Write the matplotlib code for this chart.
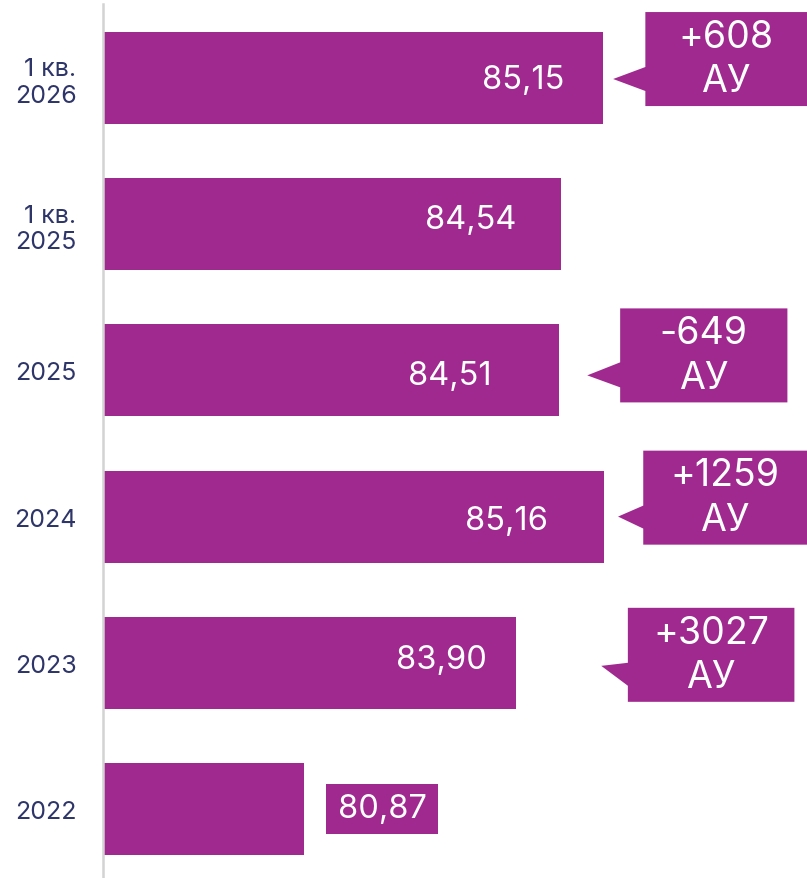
import matplotlib.pyplot as plt
from matplotlib.patches import Polygon, Rectangle

plt.rcParams["font.family"] = ["Inter", "DejaVu Sans"]

# data (top to bottom)
periods = ["1 кв.\n2026", "1 кв.\n2025", "2025", "2024", "2023", "2022"]
values = [85.15, 84.54, 84.51, 85.16, 83.90, 80.87]
changes = ["+608", None, "-649", "+1259", "+3027", None]
change_unit = "АУ"

# layout: value label centre offset from bar end (x) and from bar centre (y)
label_dx = [-1.15, -1.28, -1.56, -1.39, -1.07, None]
label_dy = [0.007, -0.034, 0.034, 0.027, -0.02, 0.0]
# 2022 label box (outside the bar): left, right, half height
outside_box = (81.19, 82.79, 0.17)

# callouts: box left, box right, box top/bottom (rel. to row), tip x, tip y, base top/bottom (rel.)
callouts = {
    0: (85.75, 88.10, -0.451, 0.192, 85.29, 0.007, -0.075, 0.089),
    2: (85.39, 87.78, -0.424, 0.219, 84.92, 0.034, -0.055, 0.116),
    3: (85.72, 88.10, -0.451, 0.192, 85.36, 0.000, -0.075, 0.082),
    4: (85.50, 87.88, -0.376, 0.267, 85.12, 0.021, 0.000, 0.157),
}

PURPLE = "#A0298F"
NAVY = "#2E3568"


def main() -> None:
    fig = plt.figure(figsize=(8.07, 8.79), dpi=100)
    ax = fig.add_axes([103 / 807, 0, 704 / 807, 874 / 879])

    rows = list(range(len(periods)))
    ax.barh(rows, [v - 78 for v in values], left=78, height=0.63, color=PURPLE, zorder=2)

    ax.set_xlim(78, 88.06)
    ax.set_ylim(5.472, -0.506)

    for i, v in enumerate(values):
        txt = f"{v:.2f}".replace(".", ",")
        if label_dx[i] is not None:
            ax.text(v + label_dx[i], i + label_dy[i], txt, ha="center", va="center",
                    color="white", fontsize=23.5, zorder=4)
        else:
            left, right, hh = outside_box
            ax.add_patch(Rectangle((left, i - hh), right - left, 2 * hh,
                                   facecolor=PURPLE, edgecolor="none", zorder=3))
            ax.text((left + right) / 2, i + label_dy[i], txt, ha="center", va="center",
                    color="white", fontsize=23.5, zorder=4)

    for i, ch in enumerate(changes):
        if ch is None:
            continue
        bl, br, bt, bb, tx, ty, pt, pb = callouts[i]
        pts = [
            (bl, i + bt), (br, i + bt), (br, i + bb), (bl, i + bb),
            (bl, i + pb), (tx, i + ty), (bl, i + pt),
        ]
        ax.add_patch(Polygon(pts, closed=True, facecolor=PURPLE, edgecolor="none",
                             zorder=3, clip_on=False))
        ax.text((bl + min(br, 88.06)) / 2, i + (bt + bb) / 2, f"{ch}\n{change_unit}",
                ha="center", va="center", color="white", fontsize=27,
                linespacing=1.3, zorder=4)

    ax.set_yticks(rows)
    ax.set_yticklabels(periods, fontsize=18, color=NAVY, linespacing=1.2)
    ax.tick_params(axis="y", length=0, pad=19)
    for lbl in ax.get_yticklabels():
        lbl.set_horizontalalignment("right")
        lbl.set_multialignment("right")
    ax.set_xticks([])

    for side in ["top", "right", "bottom"]:
        ax.spines[side].set_visible(False)
    ax.spines["left"].set_color("#D3D3D3")
    ax.spines["left"].set_linewidth(1.8)
    ax.spines["left"].set_zorder(5)

    fig.savefig("out.png", dpi=100)
    plt.close(fig)


if __name__ == "__main__":
    main()
